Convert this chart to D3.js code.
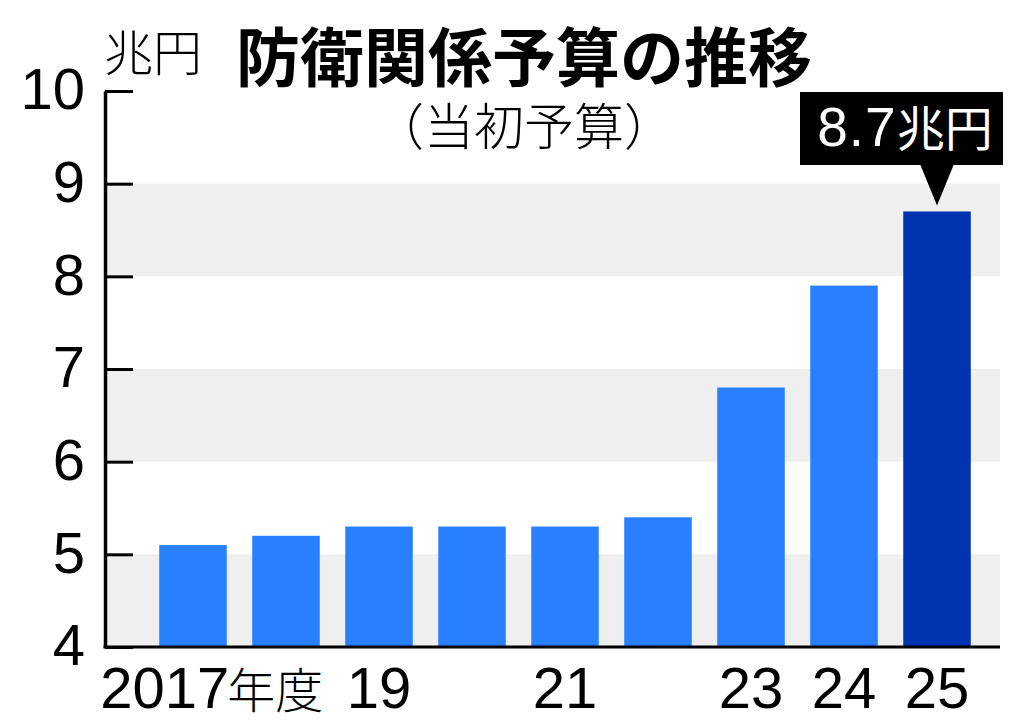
<!DOCTYPE html>
<html><head><meta charset="utf-8">
<script src="https://cdn.jsdelivr.net/npm/d3@7"></script>
<style>
html,body{margin:0;padding:0;background:#fff;}
svg{display:block;}
</style></head>
<body>
<svg id="c" width="1024" height="728"></svg>
<script>
const years = [2017, 2018, 2019, 2020, 2021, 2022, 2023, 2024, 2025];
const values = [5.1, 5.2, 5.3, 5.3, 5.3, 5.4, 6.8, 7.9, 8.7];
const xLabels = ["2017", "", "19", "", "21", "", "23", "24", "25"];
const yTicks = [4, 5, 6, 7, 8, 9, 10];
const bands = [[4, 5], [6, 7], [8, 9]];
const title = "防衛関係予算の推移";
const subtitle = "（当初予算）";
const unit = "兆円";
const callout = { value: "8.7", unit: "兆円" };

const svg = d3.select("#c");
const numFont = "'Liberation Sans', Arial, 'Noto Sans CJK JP', sans-serif";
const jpFont = "'Noto Sans CJK JP', sans-serif";

const x = d3.scaleBand().domain(years).range([146.5, 983.5]).paddingInner(0.274).paddingOuter(0.137);
const y = d3.scaleLinear().domain([4, 10]).range([647, 91]);
const plotLeft = 105, plotRight = 1000;

// background bands
svg.append("g").selectAll("rect").data(bands).join("rect")
  .attr("x", plotLeft).attr("width", plotRight - plotLeft)
  .attr("y", d => y(d[1])).attr("height", d => y(d[0]) - y(d[1]))
  .attr("fill", "#efefef");

// bars
svg.append("g").selectAll("rect").data(years).join("rect")
  .attr("x", d => x(d)).attr("width", x.bandwidth())
  .attr("y", (d, i) => y(values[i])).attr("height", (d, i) => y(4) - y(values[i]))
  .attr("fill", (d, i) => i === years.length - 1 ? "#0033b0" : "#2880ff");

// y axis
const yAxis = d3.axisLeft(y).tickValues(yTicks).tickFormat(d3.format("d"))
  .tickSizeInner(-28).tickSizeOuter(0).tickPadding(20);
const gy = svg.append("g").attr("transform", `translate(${plotLeft},0)`).call(yAxis);
gy.select(".domain").attr("stroke", "#000").attr("stroke-width", 3.5);
gy.selectAll(".tick line").attr("stroke", "#000").attr("stroke-width", 3);
gy.selectAll(".tick text").attr("font-family", numFont).attr("font-size", 58)
  .attr("fill", "#000").attr("dy", "0.31em");

// x baseline
svg.append("line").attr("x1", plotLeft - 1.5).attr("x2", plotRight)
  .attr("y1", y(4)).attr("y2", y(4)).attr("stroke", "#000").attr("stroke-width", 3);

// x labels
const xl = svg.append("g").selectAll("text").data(years).join("text")
  .attr("x", (d, i) => i === 0 ? x(d) - 59 : x(d) + x.bandwidth() / 2)
  .attr("y", 708)
  .attr("text-anchor", (d, i) => i === 0 ? "start" : "middle")
  .attr("font-family", numFont).attr("font-size", 58).attr("fill", "#000")
  .text((d, i) => xLabels[i]);
xl.filter((d, i) => i === 0).append("tspan")
  .attr("font-family", jpFont).attr("font-size", 48).attr("font-weight", 300)
  .attr("dx", -2).text("年度");

// titles
svg.append("text").attr("x", 104).attr("y", 71)
  .attr("font-family", jpFont).attr("font-size", 49).attr("font-weight", 300)
  .attr("fill", "#000").text(unit);
svg.append("text").attr("x", 236).attr("y", 81)
  .attr("font-family", jpFont).attr("font-size", 64).attr("font-weight", 700)
  .attr("fill", "#000").text(title);
svg.append("text").attr("x", 374).attr("y", 145)
  .attr("font-family", jpFont).attr("font-size", 50).attr("font-weight", 300)
  .attr("fill", "#000").text(subtitle);

// callout
const last = years[years.length - 1];
const cx = x(last) + x.bandwidth() / 2;
const lastTop = y(values[values.length - 1]);
svg.append("rect").attr("x", 800).attr("y", 92).attr("width", 203).attr("height", 73).attr("fill", "#000");
svg.append("path")
  .attr("d", `M${cx - 17},164 L${cx + 17},164 L${cx},${lastTop - 6} Z`)
  .attr("fill", "#000");
const ct = svg.append("text").attr("x", 905).attr("y", 146).attr("text-anchor", "middle")
  .attr("fill", "#fff");
ct.append("tspan").attr("font-family", numFont).attr("font-size", 55)
  .attr("letter-spacing", 1).text(callout.value);
ct.append("tspan").attr("font-family", jpFont).attr("font-size", 48).text(callout.unit);
</script>
</body></html>
